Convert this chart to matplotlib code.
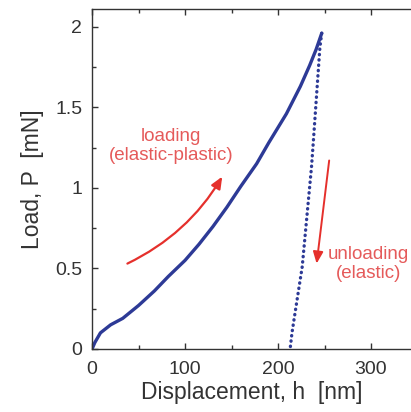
import matplotlib
matplotlib.use("Agg")
import matplotlib.pyplot as plt
from matplotlib.ticker import MultipleLocator

# ── Data ──────────────────────────────────────────────────────────────────────
load_h = [0, 3, 9, 20, 33, 50, 67, 82, 100, 115, 130, 145, 160, 177, 190, 209,
          224, 234, 241, 247]
load_P = [0, 0.04, 0.10, 0.15, 0.19, 0.27, 0.36, 0.45, 0.55, 0.65, 0.76, 0.88,
          1.01, 1.15, 1.28, 1.46, 1.63, 1.76, 1.86, 1.96]

unload_h = [247, 245, 238, 236, 226, 219, 215, 213]
unload_P = [1.96, 1.87, 1.29, 1.13, 0.51, 0.25, 0.10, 0.0]

x_ticks = [0, 100, 200, 300]
y_ticks = [0, 0.5, 1, 1.5, 2]

BLUE = "#2d3a96"
RED = "#e5302c"
RED_TXT = "#e55a5a"

plt.rcParams["font.family"] = ["Liberation Sans", "DejaVu Sans"]

fig = plt.figure(figsize=(4.11, 4.12), dpi=100)
ax = fig.add_axes([0.224, 0.153, 0.776, 0.825])

ax.plot(load_h, load_P, color=BLUE, lw=2.4, solid_capstyle="round",
        solid_joinstyle="round")
ax.plot(unload_h, unload_P, color=BLUE, lw=2.4, linestyle=(0, (0.1, 1.5)),
        dash_capstyle="round")

# ── Annotations ───────────────────────────────────────────────────────────────
ax.annotate("", xy=(140, 1.07), xytext=(38, 0.53),
            arrowprops=dict(arrowstyle="-|>,head_length=0.7,head_width=0.3",
                            color=RED, lw=1.6, shrinkA=0, shrinkB=0,
                            connectionstyle="arc3,rad=0.15"))
ax.annotate("", xy=(241.5, 0.53), xytext=(255, 1.17),
            arrowprops=dict(arrowstyle="-|>,head_length=0.7,head_width=0.3",
                            color=RED, lw=1.4, shrinkA=0, shrinkB=0))
ax.text(85, 1.26, "loading\n(elastic-plastic)", color=RED_TXT, fontsize=13.5,
        ha="center", va="center", linespacing=1.15)
ax.text(297, 0.525, "unloading\n(elastic)", color=RED_TXT, fontsize=13.5,
        ha="center", va="center", linespacing=1.15)

# ── Axes styling ──────────────────────────────────────────────────────────────
ax.set_xlim(0, 343)
ax.set_ylim(0, 2.11)
ax.set_xticks(x_ticks)
ax.set_yticks(y_ticks)
ax.set_yticklabels(["0", "0.5", "1", "1.5", "2"])
ax.xaxis.set_minor_locator(MultipleLocator(50))
ax.yaxis.set_minor_locator(MultipleLocator(0.25))
ax.tick_params(which="both", direction="in", top=True, right=False,
               colors="#333333", labelsize=14)
ax.tick_params(which="major", length=4.5, width=1.0)
ax.tick_params(which="minor", length=3.0, width=1.0)
ax.tick_params(axis="x", pad=9)
ax.tick_params(axis="y", pad=7)
ax.spines["right"].set_visible(False)
for s in ("left", "bottom", "top"):
    ax.spines[s].set_color("#333333")
    ax.spines[s].set_linewidth(1.0)

ax.set_xlabel("Displacement, h  [nm]", fontsize=16.5, color="#333333", labelpad=2)
ax.set_ylabel("Load, P  [mN]", fontsize=16.5, color="#333333", labelpad=8)

fig.savefig("out.png", dpi=100)
